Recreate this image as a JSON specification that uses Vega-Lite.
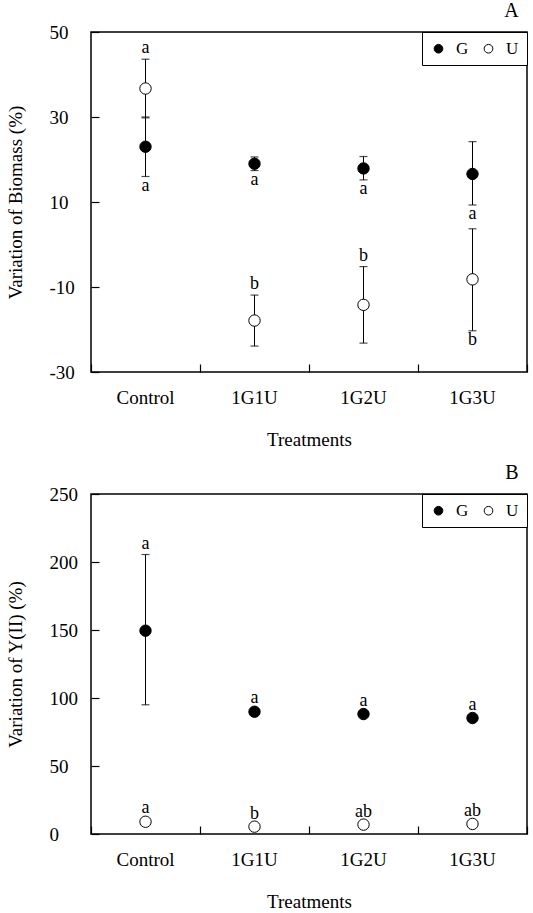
{
  "$schema": "https://vega.github.io/schema/vega-lite/v6.json",
  "background": "white",
  "padding": {"left": 5, "top": 0, "right": 5, "bottom": 0},
  "datasets": {
    "biomass": [
      {"treatment": "Control", "group": "G", "mean": 23.0, "lo": 16.0, "hi": 30.0, "letter": "a", "pos": "below"},
      {"treatment": "Control", "group": "U", "mean": 36.7, "lo": 29.8, "hi": 43.6, "letter": "a", "pos": "above"},
      {"treatment": "1G1U", "group": "G", "mean": 19.0, "lo": 17.4, "hi": 20.6, "letter": "a", "pos": "below"},
      {"treatment": "1G1U", "group": "U", "mean": -17.9, "lo": -23.9, "hi": -11.9, "letter": "b", "pos": "above"},
      {"treatment": "1G2U", "group": "G", "mean": 17.9, "lo": 15.2, "hi": 20.7, "letter": "a", "pos": "below"},
      {"treatment": "1G2U", "group": "U", "mean": -14.2, "lo": -23.2, "hi": -5.2, "letter": "b", "pos": "above"},
      {"treatment": "1G3U", "group": "G", "mean": 16.6, "lo": 9.3, "hi": 24.2, "letter": "a", "pos": "below"},
      {"treatment": "1G3U", "group": "U", "mean": -8.2, "lo": -20.3, "hi": 3.7, "letter": "b", "pos": "below"}
    ],
    "yii": [
      {"treatment": "Control", "group": "G", "mean": 149.5, "lo": 95.0, "hi": 205.5, "letter": "a", "pos": "above"},
      {"treatment": "Control", "group": "U", "mean": 9.0, "lo": 7.0, "hi": 11.0, "letter": "a", "pos": "above"},
      {"treatment": "1G1U", "group": "G", "mean": 89.9, "lo": 88.0, "hi": 91.8, "letter": "a", "pos": "above"},
      {"treatment": "1G1U", "group": "U", "mean": 5.4, "lo": 4.0, "hi": 6.8, "letter": "b", "pos": "above"},
      {"treatment": "1G2U", "group": "G", "mean": 88.2, "lo": 87.0, "hi": 89.4, "letter": "a", "pos": "above"},
      {"treatment": "1G2U", "group": "U", "mean": 6.9, "lo": 5.5, "hi": 8.3, "letter": "ab", "pos": "above"},
      {"treatment": "1G3U", "group": "G", "mean": 85.3, "lo": 84.0, "hi": 86.6, "letter": "a", "pos": "above"},
      {"treatment": "1G3U", "group": "U", "mean": 7.4, "lo": 6.0, "hi": 8.8, "letter": "ab", "pos": "above"}
    ]
  },
  "config": {
    "font": "Liberation Serif",
    "view": {"stroke": "black", "strokeWidth": 1.5},
    "concat": {"spacing": 12},
    "axis": {
      "grid": false,
      "domain": false,
      "tickColor": "black",
      "tickWidth": 1.2,
      "labelColor": "black",
      "labelFont": "Liberation Serif",
      "labelFontSize": 19,
      "titleColor": "black",
      "titleFont": "Liberation Serif",
      "titleFontSize": 19,
      "titleFontWeight": "normal"
    },
    "legend": {
      "orient": "top-right",
      "offset": 0,
      "direction": "horizontal",
      "strokeColor": "black",
      "fillColor": "white",
      "padding": 8,
      "title": null,
      "symbolType": "circle",
      "symbolSize": 75,
      "symbolStrokeColor": "black",
      "symbolStrokeWidth": 1,
      "labelFont": "Liberation Serif",
      "labelFontSize": 17,
      "labelColor": "black",
      "columnPadding": 11,
      "labelOffset": 9
    },
    "title": {"font": "Liberation Serif", "fontSize": 20, "fontWeight": "normal", "color": "black", "anchor": "end", "offset": 2, "dx": -9}
  },
  "resolve": {"scale": {"fill": "independent"}, "legend": {"fill": "independent"}},
  "vconcat": [
    {
      "title": "A",
      "width": 436,
      "height": 340,
      "data": {"name": "biomass"},
      "resolve": {"axis": {"x": "independent", "y": "independent"}},
      "layer": [
        {
          "mark": {"type": "rule", "color": "black", "strokeWidth": 1},
          "encoding": {
            "x": {"field": "treatment", "type": "nominal", "sort": ["Control", "1G1U", "1G2U", "1G3U"], "scale": {"domain": ["Control", "1G1U", "1G2U", "1G3U"], "paddingInner": 0, "paddingOuter": 0}, "axis": {"ticks": false, "tickSize": 0, "labelAngle": 0, "labelPadding": 16, "titlePadding": 23}, "title": "Treatments"},
            "y": {"field": "lo", "type": "quantitative", "scale": {"domain": [-30, 50], "nice": false}, "axis": {"values": [-30, -10, 10, 30, 50], "labelExpr": "'' + datum.value", "ticks": false, "tickSize": 0, "labelAlign": "left", "labelPadding": 42, "titlePadding": 24}, "title": "Variation of Biomass (%)"},
            "y2": {"field": "hi"}
          }
        },
        {
          "mark": {"type": "tick", "color": "black", "size": 8, "thickness": 1.2, "orient": "horizontal"},
          "encoding": {
            "x": {"field": "treatment", "type": "nominal", "sort": ["Control", "1G1U", "1G2U", "1G3U"], "axis": {"orient": "top", "offset": -340, "labels": false, "title": null, "ticks": true, "tickSize": 8, "tickBand": "extent"}},
            "y": {"field": "lo", "type": "quantitative", "axis": {"orient": "right", "offset": -436, "labels": false, "title": null, "ticks": true, "tickSize": 8, "values": [-30, -10, 10, 30, 50]}}
          }
        },
        {
          "mark": {"type": "tick", "color": "black", "size": 8, "thickness": 1.2, "orient": "horizontal"},
          "encoding": {
            "x": {"field": "treatment", "type": "nominal", "sort": ["Control", "1G1U", "1G2U", "1G3U"], "axis": null},
            "y": {"field": "hi", "type": "quantitative", "axis": null}
          }
        },
        {
          "mark": {"type": "circle", "size": 130, "stroke": "black", "strokeWidth": 1, "opacity": 1},
          "encoding": {
            "x": {"field": "treatment", "type": "nominal", "sort": ["Control", "1G1U", "1G2U", "1G3U"], "axis": null},
            "y": {"field": "mean", "type": "quantitative", "axis": null},
            "fill": {"field": "group", "type": "nominal", "scale": {"domain": ["G", "U"], "range": ["black", "white"]}}
          }
        },
        {
          "transform": [{"filter": "datum.pos === 'above'"}],
          "mark": {"type": "text", "fontSize": 18, "baseline": "middle", "dy": -11, "color": "black"},
          "encoding": {
            "x": {"field": "treatment", "type": "nominal", "sort": ["Control", "1G1U", "1G2U", "1G3U"], "axis": null},
            "y": {"field": "hi", "type": "quantitative", "axis": null},
            "text": {"field": "letter"}
          }
        },
        {
          "transform": [{"filter": "datum.pos === 'below'"}],
          "mark": {"type": "text", "fontSize": 18, "baseline": "middle", "dy": 9, "color": "black"},
          "encoding": {
            "x": {"field": "treatment", "type": "nominal", "sort": ["Control", "1G1U", "1G2U", "1G3U"], "axis": null},
            "y": {"field": "lo", "type": "quantitative", "axis": null},
            "text": {"field": "letter"}
          }
        }
      ]
    },
    {
      "title": "B",
      "width": 436,
      "height": 340,
      "data": {"name": "yii"},
      "resolve": {"axis": {"x": "independent", "y": "independent"}},
      "layer": [
        {
          "mark": {"type": "rule", "color": "black", "strokeWidth": 1},
          "encoding": {
            "x": {"field": "treatment", "type": "nominal", "sort": ["Control", "1G1U", "1G2U", "1G3U"], "scale": {"domain": ["Control", "1G1U", "1G2U", "1G3U"], "paddingInner": 0, "paddingOuter": 0}, "axis": {"ticks": false, "tickSize": 0, "labelAngle": 0, "labelPadding": 16, "titlePadding": 23}, "title": "Treatments"},
            "y": {"field": "lo", "type": "quantitative", "scale": {"domain": [0, 250], "nice": false}, "axis": {"values": [0, 50, 100, 150, 200, 250], "ticks": false, "tickSize": 0, "labelAlign": "left", "labelPadding": 42, "titlePadding": 24}, "title": "Variation of Y(II) (%)"},
            "y2": {"field": "hi"}
          }
        },
        {
          "mark": {"type": "tick", "color": "black", "size": 8, "thickness": 1.2, "orient": "horizontal"},
          "encoding": {
            "x": {"field": "treatment", "type": "nominal", "sort": ["Control", "1G1U", "1G2U", "1G3U"], "axis": {"orient": "top", "offset": -340, "labels": false, "title": null, "ticks": true, "tickSize": 8, "tickBand": "extent"}},
            "y": {"field": "lo", "type": "quantitative", "axis": {"orient": "right", "offset": -436, "labels": false, "title": null, "ticks": true, "tickSize": 8, "values": [0, 50, 100, 150, 200, 250]}}
          }
        },
        {
          "mark": {"type": "tick", "color": "black", "size": 8, "thickness": 1.2, "orient": "horizontal"},
          "encoding": {
            "x": {"field": "treatment", "type": "nominal", "sort": ["Control", "1G1U", "1G2U", "1G3U"], "axis": null},
            "y": {"field": "hi", "type": "quantitative", "axis": null}
          }
        },
        {
          "mark": {"type": "circle", "size": 130, "stroke": "black", "strokeWidth": 1, "opacity": 1},
          "encoding": {
            "x": {"field": "treatment", "type": "nominal", "sort": ["Control", "1G1U", "1G2U", "1G3U"], "axis": null},
            "y": {"field": "mean", "type": "quantitative", "axis": null},
            "fill": {"field": "group", "type": "nominal", "scale": {"domain": ["G", "U"], "range": ["black", "white"]}}
          }
        },
        {
          "transform": [{"filter": "datum.pos === 'above'"}],
          "mark": {"type": "text", "fontSize": 18, "baseline": "middle", "dy": -11, "color": "black"},
          "encoding": {
            "x": {"field": "treatment", "type": "nominal", "sort": ["Control", "1G1U", "1G2U", "1G3U"], "axis": null},
            "y": {"field": "hi", "type": "quantitative", "axis": null},
            "text": {"field": "letter"}
          }
        }
      ]
    }
  ]
}
